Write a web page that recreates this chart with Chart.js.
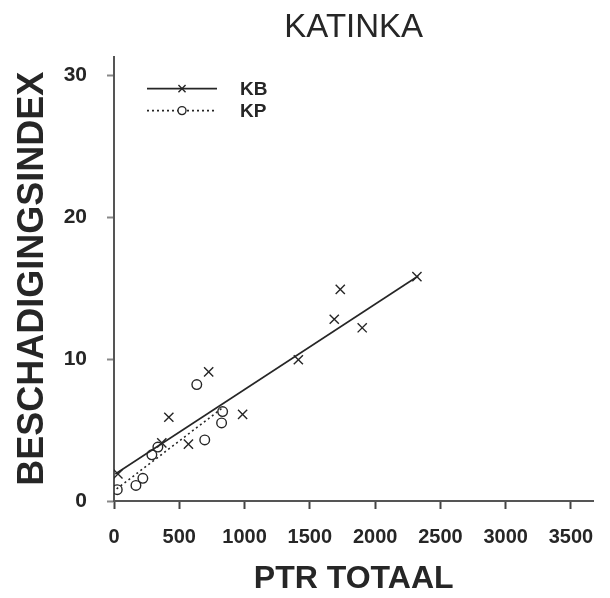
<!DOCTYPE html>
<html>
<head>
<meta charset="utf-8">
<script src="https://cdn.jsdelivr.net/npm/chart.js@4.4.1/dist/chart.umd.min.js"></script>
<style>
  html, body { margin: 0; padding: 0; background: #fff; }
  #wrap { width: 610px; height: 598px; position: relative; }
</style>
</head>
<body>
<div id="wrap"><canvas id="c"></canvas></div>
<script>
// KB observations (crosses)
const kbX = [30, 366, 420, 570, 725, 985, 1412, 1687, 1733, 1901, 2320];
const kbY = [1.9, 4.1, 5.9, 4.0, 9.1, 6.1, 9.95, 12.8, 14.9, 12.2, 15.8];
// KP observations (open circles)
const kpX = [25, 168, 221, 290, 336, 634, 695, 824, 832];
const kpY = [0.8, 1.1, 1.6, 3.25, 3.8, 8.2, 4.3, 5.5, 6.3];
// Fitted regression lines (end points)
const kbFitX = [10, 2330];
const kbFitY = [1.9, 15.85];
const kpFitX = [20, 830];
const kpFitY = [0.85, 6.55];
// Axis ticks
const xTicks = [0, 500, 1000, 1500, 2000, 2500, 3000, 3500];
const yTicks = [0, 10, 20, 30];

const toPts = (xs, ys) => xs.map((x, i) => ({ x: x, y: ys[i] }));
const FONT = "'Liberation Sans', Arial, Helvetica, sans-serif";
const INK = '#262626';

// Legend drawn inside the plot, upper-left corner
const insetLegend = {
  id: 'insetLegend',
  afterDraw(chart) {
    const ctx = chart.ctx;
    const ds = chart.data.datasets;
    const area = chart.chartArea;
    const rows = [
      { line: ds[2], mark: ds[0], label: 'KB' },
      { line: ds[3], mark: ds[1], label: 'KP' }
    ];
    const x0 = area.left + 33, x1 = area.left + 103, tx = area.left + 126;
    rows.forEach((r, i) => {
      const y = area.top + 32 + i * 22;
      ctx.save();
      ctx.strokeStyle = r.line.borderColor;
      ctx.lineWidth = r.line.borderWidth;
      ctx.setLineDash(r.line.borderDash || []);
      ctx.beginPath();
      ctx.moveTo(x0, y);
      ctx.lineTo(x1, y);
      ctx.stroke();
      ctx.setLineDash([]);
      ctx.fillStyle = '#fff';
      if (r.mark.pointStyle === 'circle') {
        ctx.beginPath();
        ctx.arc((x0 + x1) / 2, y, 4, 0, Math.PI * 2);
        ctx.fill();
      }
      ctx.strokeStyle = r.mark.borderColor;
      ctx.lineWidth = r.mark.pointBorderWidth;
      Chart.helpers.drawPoint(ctx, {
        pointStyle: r.mark.pointStyle,
        radius: r.mark.pointStyle === 'circle' ? 4 : 5,
        rotation: 0,
        borderWidth: r.mark.pointBorderWidth
      }, (x0 + x1) / 2, y);
      ctx.fillStyle = INK;
      ctx.font = 'bold 19px ' + FONT;
      ctx.textBaseline = 'middle';
      ctx.textAlign = 'left';
      ctx.fillText(r.label, tx, y + 1);
      ctx.restore();
    });
  }
};

new Chart(document.getElementById('c'), {
  type: 'scatter',
  data: {
    datasets: [
      { label: 'KB', data: toPts(kbX, kbY), pointStyle: 'crossRot', pointRadius: 6.5,
        pointBorderWidth: 1.4, borderColor: INK, backgroundColor: INK, showLine: false },
      { label: 'KP', data: toPts(kpX, kpY), pointStyle: 'circle', pointRadius: 4.8,
        pointBorderWidth: 1.4, borderColor: INK, backgroundColor: 'rgba(255,255,255,0)', showLine: false },
      { label: 'KB fit', data: toPts(kbFitX, kbFitY), showLine: true, pointRadius: 0,
        borderColor: INK, borderWidth: 1.6, fill: false },
      { label: 'KP fit', data: toPts(kpFitX, kpFitY), showLine: true, pointRadius: 0,
        borderColor: INK, borderWidth: 1.6, borderDash: [2, 3], fill: false }
    ]
  },
  options: {
    responsive: true,
    maintainAspectRatio: false,
    animation: false,
    layout: { padding: { left: 0, right: 15, top: 0, bottom: 0 } },
    plugins: {
      legend: { display: false },
      tooltip: { enabled: false },
      title: {
        display: true, text: 'KATINKA', fullSize: false, color: INK,
        font: { family: FONT, size: 33, weight: 'normal' },
        padding: { top: 8, bottom: 9 }
      }
    },
    scales: {
      x: {
        type: 'linear', min: 0, max: 3672,
        afterBuildTicks: s => { s.ticks = xTicks.map(v => ({ value: v })); },
        afterFit: s => { s.height = 97; },
        grid: { display: true, drawOnChartArea: false, drawTicks: true, tickLength: 8, tickColor: '#444', tickWidth: 2 },
        border: { display: true, color: '#555', width: 2 },
        ticks: { color: INK, font: { family: FONT, size: 20, weight: 'bold' }, padding: 16, maxRotation: 0, autoSkip: false,
                 callback: v => String(v) },
        title: { display: true, text: 'PTR TOTAAL', color: INK, font: { family: FONT, size: 32, weight: 'bold' }, padding: { top: 0, bottom: 0 } }
      },
      y: {
        type: 'linear', min: 0, max: 31.3,
        afterBuildTicks: s => { s.ticks = yTicks.map(v => ({ value: v })); },
        afterFit: s => { s.width = 114; },
        grid: { display: true, drawOnChartArea: false, drawTicks: true, tickLength: 7, tickColor: '#888', tickWidth: 2 },
        border: { display: true, color: '#555', width: 2 },
        ticks: { color: INK, font: { family: FONT, size: 21, weight: 'bold' }, padding: 20, autoSkip: false,
                 callback: v => String(v) },
        title: { display: true, text: 'BESCHADIGINGSINDEX', color: INK, font: { family: FONT, size: 36, weight: 'bold' }, padding: { top: 11, bottom: 0 } }
      }
    }
  },
  plugins: [insetLegend]
});
</script>
</body>
</html>
